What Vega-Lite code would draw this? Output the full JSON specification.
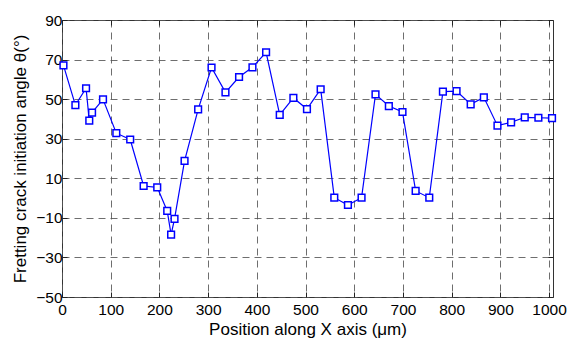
{
  "$schema": "https://vega.github.io/schema/vega-lite/v6.json",
  "autosize": "none",
  "width": 491,
  "height": 277,
  "padding": {"left": 62, "top": 20, "right": 14, "bottom": 49},
  "background": "white",
  "config": {
    "font": "Liberation Sans",
    "view": {"stroke": "#333333", "strokeWidth": 1},
    "axis": {
      "labelFont": "Liberation Sans",
      "titleFont": "Liberation Sans",
      "labelFontSize": 15.5,
      "titleFontSize": 17,
      "titleFontWeight": "normal",
      "labelColor": "#000000",
      "titleColor": "#000000",
      "domain": false,
      "tickColor": "#222222",
      "tickSize": -5,
      "gridColor": "#555555",
      "gridDash": [7, 5],
      "gridWidth": 1,
      "gridOpacity": 0.85
    }
  },
  "data": {"values": [
    {"x": 3, "y": 67.1}, {"x": 27.5, "y": 47}, {"x": 49.4, "y": 55.5}, {"x": 56, "y": 39.1},
    {"x": 61.7, "y": 43.2}, {"x": 84.2, "y": 49.9}, {"x": 111.5, "y": 32.8}, {"x": 140, "y": 29.6},
    {"x": 167.6, "y": 6.1}, {"x": 195.5, "y": 5.4}, {"x": 216, "y": -6.5}, {"x": 224, "y": -18.5},
    {"x": 231, "y": -10.5}, {"x": 251.6, "y": 18.8}, {"x": 279.5, "y": 44.8}, {"x": 307, "y": 66},
    {"x": 335.6, "y": 53.4}, {"x": 363.5, "y": 61.2}, {"x": 391, "y": 66.1}, {"x": 419, "y": 73.7},
    {"x": 447, "y": 42}, {"x": 475, "y": 50.6}, {"x": 502.9, "y": 45}, {"x": 531, "y": 55},
    {"x": 559, "y": 0.2}, {"x": 587, "y": -3.5}, {"x": 615, "y": 0.2}, {"x": 643.6, "y": 52.4},
    {"x": 671, "y": 46.5}, {"x": 699, "y": 43.5}, {"x": 726, "y": 3.6}, {"x": 754, "y": 0.2},
    {"x": 782, "y": 53.8}, {"x": 810, "y": 54.1}, {"x": 839, "y": 47.4}, {"x": 866, "y": 50.9},
    {"x": 894, "y": 36.6}, {"x": 922, "y": 38.3}, {"x": 950, "y": 40.8}, {"x": 978, "y": 40.6},
    {"x": 1006, "y": 40.4}
  ]},
  "layer": [
    {
      "mark": {"type": "line", "color": "#0000ff", "strokeWidth": 1.2},
      "encoding": {
        "x": {"field": "x", "type": "quantitative",
              "scale": {"domain": [0, 1008], "nice": false, "zero": false},
              "axis": {"values": [0,100,200,300,400,500,600,700,800,900,1000], "grid": true, "format": "d",
                       "title": "Position along X axis (μm)", "titlePadding": 4, "labelPadding": 10, "labelFlush": false}},
        "y": {"field": "y", "type": "quantitative",
              "scale": {"domain": [-50, 90], "nice": false, "zero": false},
              "axis": {"values": [-50,-30,-10,10,30,50,70,90], "grid": true,
                       "labelExpr": "replace(datum.label, '-', '−')",
                       "title": "Fretting crack initiation angle θ(°)", "titlePadding": 6, "labelPadding": 5}}
      }
    },
    {
      "mark": {"type": "point", "shape": "square", "filled": true, "fill": "white", "stroke": "#0000ff", "strokeWidth": 1.5, "size": 45, "opacity": 1},
      "encoding": {
        "x": {"field": "x", "type": "quantitative",
              "axis": {"orient": "top", "values": [0,100,200,300,400,500,600,700,800,900,1000], "labels": false, "title": null, "grid": false}},
        "y": {"field": "y", "type": "quantitative",
              "axis": {"orient": "right", "values": [-50,-30,-10,10,30,50,70,90], "labels": false, "title": null, "grid": false}}
      }
    }
  ],
  "resolve": {"axis": {"x": "independent", "y": "independent"}}
}
